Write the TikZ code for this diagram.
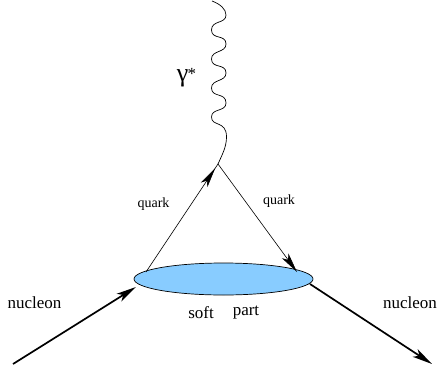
\documentclass[tikz,border=0pt]{standalone}
\usepackage{xcolor}
\usepackage{fontspec}
\setmainfont{Liberation Serif}
\usepackage{tikz}
\usetikzlibrary{positioning, arrows.meta, shapes.geometric}
\definecolor{softblue}{HTML}{88CCFF}
\tikzset{
  nucleonline/.style={line width=1.7pt, -{Stealth[length=20pt, width=9pt, inset=5pt]}},
  quarkline/.style={line width=0.6pt, -{Stealth[length=20pt, width=8pt, inset=5pt]}},
  biglabel/.style={inner sep=0pt, font=\fontsize{17}{20}\selectfont},
  quarklabel/.style={inner sep=0pt, font=\fontsize{14}{16}\selectfont},
  photonlabelstyle/.style={inner sep=0pt, font=\fontsize{26}{28}\selectfont},
}

\begin{document}
\begin{tikzpicture}[x=1pt, y=-1pt]
    \useasboundingbox (0,0) rectangle (438,369);
    \node[draw=black, fill=softblue, line width=0.7pt, ellipse, minimum width=179pt, minimum height=32pt, inner sep=0pt] (soft) at (223.5,279) {};
    \coordinate (vertex) at (218,164);
    \coordinate (photontop) at (212,1);
    \coordinate (nucleonin) at (13,364);
    \coordinate (nucleonintip) at (136,287);
    \coordinate (nucleonoutstart) at (310,284);
    \coordinate (nucleonout) at (432,364);
    \coordinate (quarkstart) at (146,272);
    \coordinate (quarkouttip) at (297,272);
    \draw[line width=0.7pt] (photontop) .. controls (220,4) and (226,9) .. (226,15)
      .. controls (226,24) and (211.5,20) .. (211.5,30)
      .. controls (211.5,40) and (226,34) .. (226,44)
      .. controls (226,53) and (211.5,50) .. (211.5,59)
      .. controls (211.5,69) and (226,63) .. (226,73)
      .. controls (226,82) and (211.5,79) .. (211.5,88)
      .. controls (211.5,98) and (226,92) .. (226,103)
      .. controls (226,112) and (211.5,108) .. (211.5,117)
      .. controls (211.5,127) and (226.5,120) .. (226.5,137)
      .. controls (226.5,147) and (222,155) .. (vertex);
    \draw[line width=0.6pt, shorten <=120pt] (quarkstart) -- (vertex);
    \draw[quarkline, shorten >=5pt] (quarkstart) -- (vertex);
    \draw[quarkline] (vertex) -- (quarkouttip);
    \draw[nucleonline] (nucleonin) -- (nucleonintip);
    \draw[nucleonline] (nucleonoutstart) -- (nucleonout);
    \node[photonlabelstyle] (photonlabel) at (182.5,78) {γ};
    \node[biglabel, right=-1pt of photonlabel.north east, anchor=north west, yshift=1pt] (photonstar) {*};
    \node[quarklabel] (quarkleft) at (153.5,204.5) {quark};
    \node[quarklabel] (quarkright) at (279,201) {quark};
    \node[biglabel] (nucleonleft) at (34.5,303) {nucleon};
    \node[biglabel] (nucleonright) at (410,303) {nucleon};
    \node[biglabel] (softlabel) at (201,313) {soft};
    \node[biglabel] (partlabel) at (246,313) {part};
  \end{tikzpicture}
\end{document}
